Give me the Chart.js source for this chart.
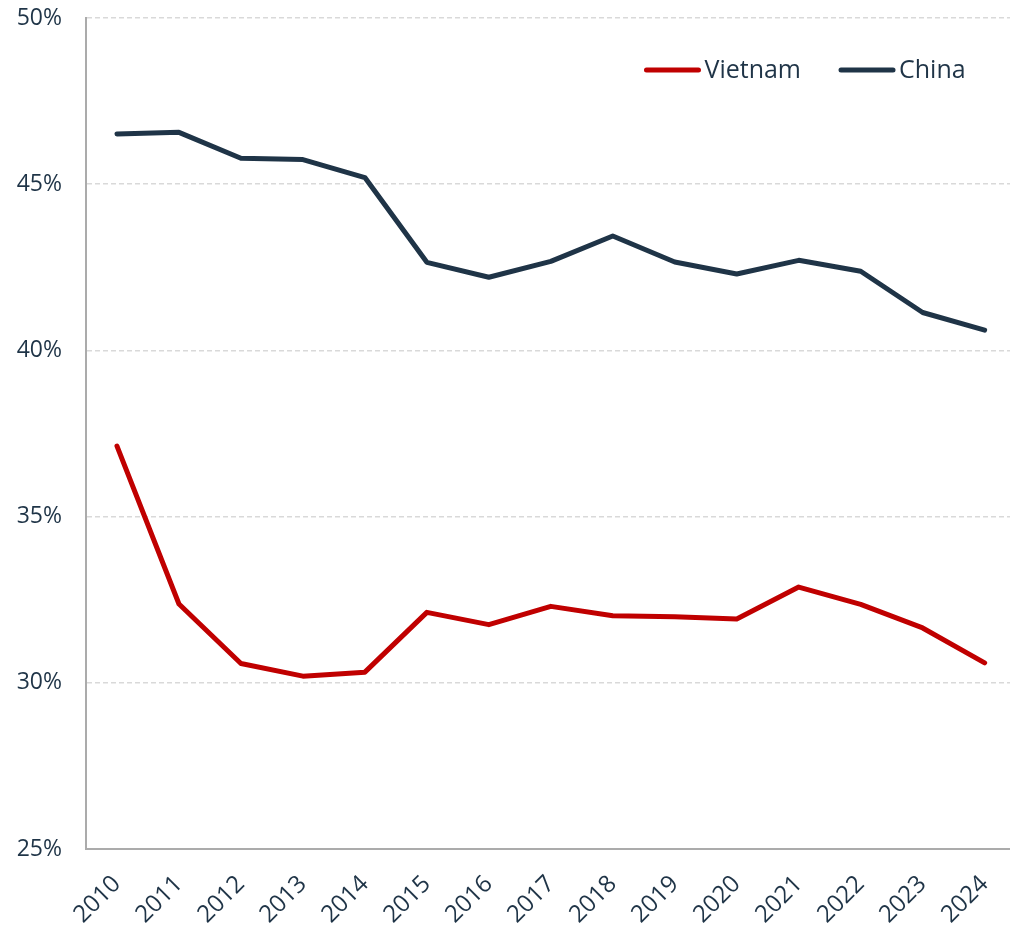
<!DOCTYPE html>
<html>
<head>
<meta charset="utf-8">
<script src="https://cdn.jsdelivr.net/npm/chart.js@4.4.1/dist/chart.umd.min.js"></script>
<style>
  html, body { margin: 0; padding: 0; background: #fff; overflow: hidden; }
  #wrap { position: relative; width: 1018px; height: 931px; }
</style>
</head>
<body>
<div id="wrap"><canvas id="chart"></canvas></div>
<script>
const years = ['2010', '2011', '2012', '2013', '2014', '2015', '2016', '2017', '2018', '2019', '2020', '2021', '2022', '2023', '2024'];
const vietnam = [37.12, 32.37, 30.58, 30.2, 30.32, 32.12, 31.75, 32.3, 32.02, 31.99, 31.92, 32.88, 32.36, 31.65, 30.6];
const china = [46.51, 46.56, 45.78, 45.74, 45.2, 42.65, 42.2, 42.68, 43.44, 42.66, 42.3, 42.71, 42.38, 41.14, 40.61];
const yMin = 25, yMax = 50, yStep = 5;

const textColor = '#1f3447';
const fontFamily = "'Open Sans', 'Noto Sans', sans-serif";

// legend drawn inside the plot, top right (like the Excel original)
const insideLegend = {
    id: 'insideLegend',
    afterDraw(chart) {
        const ctx = chart.ctx;
        const area = chart.chartArea;
        ctx.save();
        ctx.font = `25px ${fontFamily}`;
        ctx.textBaseline = 'middle';
        let x = area.right - 50;
        const y = area.top + 52;
        const items = chart.data.datasets.slice().reverse();
        items.forEach(ds => {
            const w = ctx.measureText(ds.label).width;
            x -= w;
            ctx.fillStyle = textColor;
            ctx.fillText(ds.label, x, y + 1);
            x -= 6;
            ctx.strokeStyle = ds.borderColor;
            ctx.lineWidth = 5;
            ctx.lineCap = 'round';
            ctx.beginPath();
            ctx.moveTo(x - 52, y);
            ctx.lineTo(x, y);
            ctx.stroke();
            x -= 54 + 38;
        });
        ctx.restore();
    },
};

new Chart(document.getElementById('chart'), {
    type: 'line',
    data: {
        labels: years,
        datasets: [
            { label: 'Vietnam', data: vietnam, borderColor: '#c00000', backgroundColor: '#c00000', borderWidth: 5, borderCapStyle: 'round', borderJoinStyle: 'round', pointRadius: 0, tension: 0 },
            { label: 'China', data: china, borderColor: '#1f3447', backgroundColor: '#1f3447', borderWidth: 5, borderCapStyle: 'round', borderJoinStyle: 'round', pointRadius: 0, tension: 0 },
        ],
    },
    plugins: [insideLegend],
    options: {
        responsive: true, maintainAspectRatio: false, animation: false,
        layout: { padding: 0 },
        plugins: {
            tooltip: { enabled: false },
            legend: { display: false },
        },
        scales: {
            x: {
                offset: true,
                grid: { display: false },
                border: { color: '#ababab', width: 2 },
                ticks: { color: textColor, font: { family: fontFamily, size: 24 }, minRotation: 45, maxRotation: 45, padding: 13, autoSkip: false },
                afterFit: s => { s.height = 82; },
            },
            y: {
                min: yMin, max: yMax,
                grid: { color: '#d9d9d9', lineWidth: 1.5, drawTicks: false },
                border: { color: '#ababab', width: 2, dash: [5, 3] },
                ticks: { stepSize: yStep, color: textColor, font: { family: fontFamily, size: 23 }, padding: 24, callback: v => v + '%' },
                afterFit: s => { s.width = 86; s.paddingTop = 18; s.paddingBottom = 0; },
            },
        },
    },
});
</script>
</body>
</html>
